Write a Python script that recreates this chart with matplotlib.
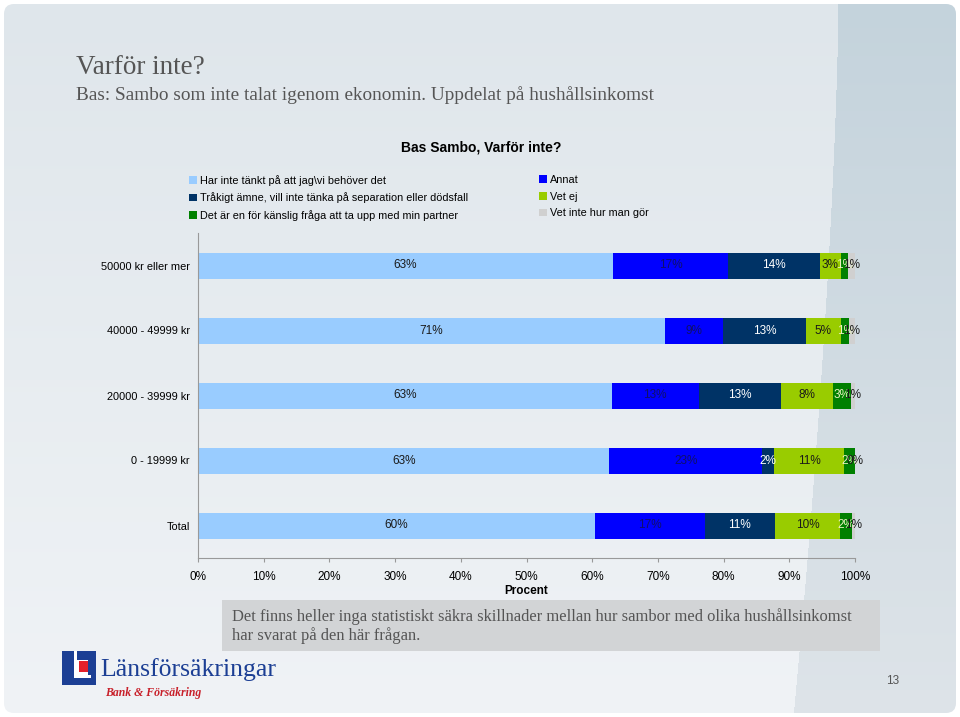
import matplotlib
matplotlib.use("Agg")
import matplotlib.pyplot as plt
import numpy as np
from matplotlib.patches import FancyBboxPatch, Rectangle, Patch

# data, top row first
categories = ["50000 kr eller mer", "40000 - 49999 kr", "20000 - 39999 kr", "0 - 19999 kr", "Total"]
series = [
    "Har inte tänkt på att jag\\vi behöver det",
    "Annat",
    "Tråkigt ämne, vill inte tänka på separation eller dödsfall",
    "Vet ej",
    "Det är en för känslig fråga att ta upp med min partner",
    "Vet inte hur man gör",
]
har_inte = [63.2, 71.1, 63.0, 62.6, 60.4]
annat = [17.4, 8.8, 13.2, 23.3, 16.7]
trakigt = [14.0, 12.6, 12.6, 1.8, 10.7]
vet_ej = [3.2, 5.4, 7.9, 10.7, 9.9]
kanslig = [1.2, 1.2, 2.7, 1.6, 1.8]
vet_inte_hur = [1.0, 0.9, 0.6, 0.0, 0.6]
values = [har_inte, annat, trakigt, vet_ej, kanslig, vet_inte_hur]
xticks = [0, 10, 20, 30, 40, 50, 60, 70, 80, 90, 100]

colors = ["#99ccff", "#0000ff", "#003366", "#99cc00", "#008000", "#d0d0d0"]
label_colors = ["#1a1a1a", "#10106a", "white", "#1a1a1a", "#e8f0c0", "#1a1a1a"]

W, H = 960, 717
fig = plt.figure(figsize=(W / 100, H / 100), dpi=100)
fig.patch.set_facecolor("white")

# slide background
bg = fig.add_axes([0, 0, 1, 1])
bg.set_xlim(0, W)
bg.set_ylim(H, 0)
bg.axis("off")
yy, xx = np.mgrid[0:H, 0:W]
t = yy / H
base = np.stack([223 + 17 * t, 230 + 13 * t, 235 + 11 * t], axis=-1)
band_edge = 838 - 45 * t ** 1.5
band = np.stack([196 + 26 * t, 211 + 17 * t, 220 + 13 * t], axis=-1)
img = np.where((xx > band_edge)[..., None], band, base) / 255
slide = FancyBboxPatch((4, 4), W - 8, H - 8, boxstyle="round,pad=0,rounding_size=10",
                       fc="none", ec="none")
bg.add_patch(slide)
im = bg.imshow(img, extent=(0, W, H, 0), aspect="auto", zorder=0)
im.set_clip_path(slide)

serif = "Liberation Serif"
sans = "Liberation Sans"
bg.text(76, 68, "Varför inte?", fontsize=19.5, family=serif, color="#555555", va="center")
bg.text(76, 95, "Bas: Sambo som inte talat igenom ekonomin. Uppdelat på hushållsinkomst",
        fontsize=13.9, family=serif, color="#555555", va="center")
bg.text(481, 148, "Bas Sambo, Varför inte?", fontsize=10, family=sans, weight="bold",
        color="black", ha="center", va="center")

# note box
bg.add_patch(Rectangle((222, 600), 658, 51, fc="#d2d4d6", ec="none"))
bg.text(232, 617, "Det finns heller inga statistiskt säkra skillnader mellan hur sambor med olika hushållsinkomst",
        fontsize=11.9, family=serif, color="#555555", va="center")
bg.text(232, 636, "har svarat på den här frågan.", fontsize=11.9, family=serif,
        color="#555555", va="center")

# logo
bg.add_patch(Rectangle((62, 651), 34, 34, fc="#1c3f94", ec="none"))
bg.add_patch(Rectangle((74, 651), 3, 27, fc="white", ec="none"))
bg.add_patch(Rectangle((74, 675), 17, 3, fc="white", ec="none"))
bg.add_patch(Rectangle((77, 660), 11, 15, fc="white", ec="none"))
bg.add_patch(Rectangle((79, 661), 9, 11, fc="#e4202a", ec="none"))
bg.text(100, 670, "Länsförsäkringar", fontsize=18.5, family=serif, color="#1c3f94", va="center")
bg.text(105, 693, "Bank & Försäkring", fontsize=8.5, family=serif, style="italic",
        weight="bold", color="#c8202a", va="center")
bg.text(893, 681, "13", fontsize=8.5, family=sans, color="#555555", ha="center", va="center")

# chart
ax = fig.add_axes([198 / W, 1 - 558 / H, 657 / W, 325 / H])
ax.patch.set_alpha(0)
y = np.arange(len(categories))
left = np.zeros(len(categories))
for name, vals, c, lc in zip(series, values, colors, label_colors):
    vals = np.array(vals)
    ax.barh(y, vals, left=left, height=0.4, color=c, label=name)
    for yi, v, l in zip(y, vals, left):
        ax.text(l + v / 2, yi, f"{int(v + 0.5)}%", ha="center", va="center",
                fontsize=8.5, family=sans, color=lc)
    left += vals

ax.set_xlim(0, 100)
ax.set_ylim(len(categories) - 0.5, -0.5)
ax.set_yticks(y)
ax.set_yticklabels(categories, fontsize=7.9, family=sans)
ax.set_xticks(xticks)
ax.set_xticklabels([f"{v}%" for v in xticks], fontsize=8.5, family=sans)
ax.tick_params(axis="y", length=0, pad=6)
ax.tick_params(axis="x", length=3, color="#999999", pad=6)
ax.set_xlabel("Procent", fontsize=8.5, family=sans, weight="bold", labelpad=2)
for s in ["top", "right"]:
    ax.spines[s].set_visible(False)
for s in ["left", "bottom"]:
    ax.spines[s].set_color("#999999")
    ax.spines[s].set_linewidth(0.8)

# legend: two columns, Excel row-major order
leg_kw = dict(frameon=False, handlelength=0.7, handleheight=0.7,
              handletextpad=0.3, labelspacing=0.62, borderpad=0, borderaxespad=0,
              loc="upper left", prop={"family": sans, "size": 7.8})
h = [Patch(fc=c, ec="none") for c in colors]
fig.legend([h[0], h[2], h[4]], [series[0], series[2], series[4]],
           bbox_to_anchor=(189 / W, 1 - 175 / H), **leg_kw)
fig.legend([h[1], h[3], h[5]], [series[1], series[3], series[5]],
           bbox_to_anchor=(539 / W, 1 - 175 / H), **leg_kw)

fig.savefig("out.png", dpi=100)
